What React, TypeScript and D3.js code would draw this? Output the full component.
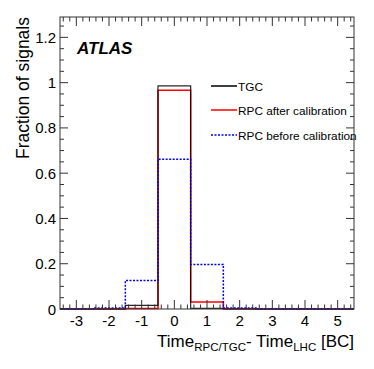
import React from 'react';
import * as d3 from 'd3';

const binCenters = [-3, -2, -1, 0, 1, 2, 3, 4, 5];
const tgc = [0, 0, 0.016, 0.986, 0.003, 0, 0, 0, 0];
const rpcAfter = [0, 0, 0.002, 0.966, 0.031, 0.001, 0, 0, 0];
const rpcBefore = [0, 0.004, 0.126, 0.662, 0.197, 0.004, 0, 0, 0];
const xTicks = [-3, -2, -1, 0, 1, 2, 3, 4, 5];
const yTicks = [0, 0.2, 0.4, 0.6, 0.8, 1, 1.2];
const yTickLabels = ['0', '0.2', '0.4', '0.6', '0.8', '1', '1.2'];

const W = 374;
const H = 369;
const margin = { top: 17, right: 20, bottom: 60, left: 60 };
const FONT = 'Liberation Sans, Arial, Helvetica, sans-serif';

export default function App() {
  const x = d3.scaleLinear().domain([-3.5, 5.5]).range([margin.left, W - margin.right]);
  const y = d3.scaleLinear().domain([0, 1.29]).range([H - margin.bottom, margin.top]);
  const [x0, x1] = x.range();
  const [y0, y1] = y.range();

  const step = d3
    .line<[number, number]>()
    .x(d => x(d[0]))
    .y(d => y(d[1]))
    .curve(d3.curveStepAfter);

  // outline of a histogram: each bin value holds from its low edge to the next one
  const histPath = (vals: number[]) => {
    const pts: [number, number][] = [[-3.5, 0]];
    vals.forEach((v, i) => pts.push([binCenters[i] - 0.5, v]));
    pts.push([5.5, 0]);
    return step(pts) || '';
  };

  const xMinor = d3.range(-3.4, 5.5, 0.2).filter(v => Math.abs(v - Math.round(v)) > 0.01);
  const yMinor = d3.range(0.05, 1.29, 0.05).filter(v => Math.abs(v * 5 - Math.round(v * 5)) > 0.01);

  const axisColor = '#333';
  const legend = [
    { label: 'TGC', color: '#000', dash: undefined, y: 86 },
    { label: 'RPC after calibration', color: '#ff0000', dash: undefined, y: 110 },
    { label: 'RPC before calibration', color: '#0000ff', dash: '2,1.5', y: 135 },
  ];

  return (
    <svg width={W} height={H} style={{ position: 'absolute', left: 0, top: 0 }} fontFamily={FONT}>
      <rect width={W} height={H} fill="#fff" />
      {/* histograms */}
      <path d={histPath(rpcAfter)} fill="none" stroke="#ff0000" strokeWidth={1.5} />
      <path d={histPath(tgc)} fill="none" stroke="#000" strokeWidth={1.2} strokeOpacity={0.85} />
      <path d={histPath(rpcBefore)} fill="none" stroke="#0000ff" strokeWidth={1.5} strokeDasharray="2,1.5" />

      {/* frame */}
      <rect x={x0} y={y1} width={x1 - x0} height={y0 - y1} fill="none" stroke={axisColor} strokeWidth={1} />

      {/* x ticks bottom and top */}
      {xTicks.map(t => (
        <g key={'xt' + t}>
          <line x1={x(t)} x2={x(t)} y1={y0} y2={y0 - 9} stroke={axisColor} />
          <line x1={x(t)} x2={x(t)} y1={y1} y2={y1 + 9} stroke={axisColor} />
          <text x={x(t)} y={326} fontSize={15} textAnchor="middle" fill="#000">
            {t}
          </text>
        </g>
      ))}
      {xMinor.map(t => (
        <g key={'xm' + t}>
          <line x1={x(t)} x2={x(t)} y1={y0} y2={y0 - 4.5} stroke={axisColor} />
          <line x1={x(t)} x2={x(t)} y1={y1} y2={y1 + 4.5} stroke={axisColor} />
        </g>
      ))}

      {/* y ticks left and right */}
      {yTicks.map((t, i) => (
        <g key={'yt' + t}>
          <line x1={x0} x2={x0 + 8} y1={y(t)} y2={y(t)} stroke={axisColor} />
          <line x1={x1} x2={x1 - 8} y1={y(t)} y2={y(t)} stroke={axisColor} />
          <text x={56} y={y(t) + 5.5} fontSize={15} textAnchor="end" fill="#000">
            {yTickLabels[i]}
          </text>
        </g>
      ))}
      {yMinor.map(t => (
        <g key={'ym' + t}>
          <line x1={x0} x2={x0 + 4} y1={y(t)} y2={y(t)} stroke={axisColor} />
          <line x1={x1} x2={x1 - 4} y1={y(t)} y2={y(t)} stroke={axisColor} />
        </g>
      ))}

      {/* axis titles */}
      <text transform={`translate(29, ${y1}) rotate(-90)`} fontSize={17.5} textAnchor="end" fill="#000">
        Fraction of signals
      </text>
      <text x={x1} y={347} fontSize={17} textAnchor="end" fill="#000">
        Time
        <tspan fontSize={11.5} dy={4}>RPC/TGC</tspan>
        <tspan dy={-4}>- Time</tspan>
        <tspan fontSize={11.5} dy={4}>LHC</tspan>
        <tspan dy={-4}> [BC]</tspan>
      </text>

      {/* ATLAS label */}
      <text x={77} y={54} fontSize={17} fontWeight="bold" fontStyle="italic" fill="#000">
        ATLAS
      </text>

      {/* legend */}
      {legend.map(l => (
        <g key={l.label}>
          <line x1={211} x2={237} y1={l.y} y2={l.y} stroke={l.color} strokeWidth={1.5} strokeDasharray={l.dash} />
          <text x={238} y={l.y + 4.5} fontSize={11.8} fill="#000">
            {l.label}
          </text>
        </g>
      ))}
    </svg>
  );
}
